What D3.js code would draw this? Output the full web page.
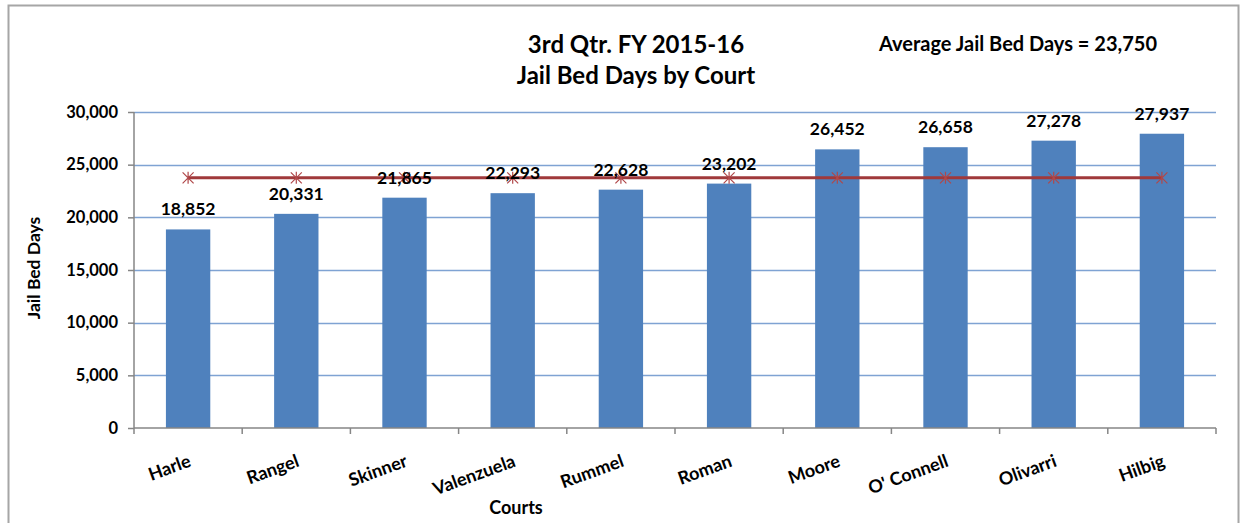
<!DOCTYPE html>
<html>
<head>
<meta charset="utf-8">
<script src="https://cdn.jsdelivr.net/npm/d3@7"></script>
<style>
  body { margin: 0; background: #fff; }
  text { font-family: Lato, "Open Sans", sans-serif; font-weight: bold; fill: #000; }
</style>
</head>
<body>
<div id="chart"></div>
<script>
// data
let courts = ['Harle', 'Rangel', 'Skinner', 'Valenzuela', 'Rummel', 'Roman', 'Moore', "O' Connell", 'Olivarri', 'Hilbig'];
let bedDays = [18852, 20331, 21865, 22293, 22628, 23202, 26452, 26658, 27278, 27937];
let averageDays = [23750, 23750, 23750, 23750, 23750, 23750, 23750, 23750, 23750, 23750];
let yTicks = [0, 5000, 10000, 15000, 20000, 25000, 30000];

let width = 1249,
    height = 523,
    margin = {left: 134, top: 112, right: 33, bottom: 95},
    svg = d3.select('#chart').append('svg')
        .attr('width', width)
        .attr('height', height),
    barColor = '#4F81BD',
    gridColor = '#7FA3D3',
    avgColor = '#A0393B',
    fmt = d3.format(',');

// outer frame
svg.append('rect')
    .attr('x', 8.5).attr('y', 5.5)
    .attr('width', 1230).attr('height', 540)
    .attr('fill', 'none')
    .attr('stroke', '#A6A6A6')
    .attr('stroke-width', 2);

let x = d3.scaleBand()
    .domain(courts)
    .range([margin.left, width - margin.right]);

let y = d3.scaleLinear()
    .domain([0, 30000])
    .range([height - margin.bottom, margin.top]);

// gridlines
svg.append('g').selectAll('line')
    .data(yTicks.filter((d) => d > 0))
    .enter().append('line')
    .attr('x1', margin.left).attr('x2', width - margin.right)
    .attr('y1', (d) => Math.round(y(d)) + 0.5)
    .attr('y2', (d) => Math.round(y(d)) + 0.5)
    .attr('stroke', gridColor)
    .attr('stroke-width', 1.5);

// bars
let bw = x.bandwidth() * 0.41;
svg.append('g').selectAll('rect')
    .data(bedDays)
    .enter().append('rect')
    .attr('x', (d, i) => x(courts[i]) + x.bandwidth() / 2 - bw / 2)
    .attr('y', (d) => y(d))
    .attr('width', bw)
    .attr('height', (d) => y(0) - y(d))
    .attr('fill', barColor);

// y axis
let yAxis = svg.append('g')
    .attr('transform', 'translate(' + margin.left + ',0)')
    .call(d3.axisLeft(y).tickValues(yTicks).tickSize(6).tickPadding(10).tickFormat(fmt));
yAxis.selectAll('path, line').attr('stroke', '#868686').attr('stroke-width', 1.5);
yAxis.select('.domain').attr('d', 'M0,' + y(30000) + 'V' + y(0));
yAxis.selectAll('text')
    .style('font-size', '16.5px')
    .style('font-family', 'Lato, sans-serif')
    .style('font-weight', 'bold');

// x axis with ticks at category edges
let xAxisG = svg.append('g')
    .attr('transform', 'translate(0,' + y(0) + ')');
xAxisG.append('line')
    .attr('x1', margin.left).attr('x2', width - margin.right)
    .attr('stroke', '#868686').attr('stroke-width', 1.5);
xAxisG.selectAll('line.tick')
    .data(courts.concat(['end']))
    .enter().append('line')
    .attr('class', 'tick')
    .attr('x1', (d, i) => margin.left + i * x.step())
    .attr('x2', (d, i) => margin.left + i * x.step())
    .attr('y1', 0).attr('y2', 6)
    .attr('stroke', '#868686').attr('stroke-width', 1.5);
xAxisG.selectAll('text')
    .data(courts)
    .enter().append('text')
    .attr('text-anchor', 'end')
    .attr('transform', (d) => 'translate(' + (x(d) + x.bandwidth() / 2 + 4) + ',' + 38 + ') rotate(-20)')
    .style('font-size', '18px')
    .text((d) => d);

// average line with star markers
let lineGen = d3.line()
    .x((d, i) => x(courts[i]) + x.bandwidth() / 2)
    .y((d) => y(d));
svg.append('path')
    .datum(averageDays)
    .attr('d', lineGen)
    .attr('fill', 'none')
    .attr('stroke', avgColor)
    .attr('stroke-width', 3);

let star = svg.append('g').selectAll('g')
    .data(averageDays)
    .enter().append('g')
    .attr('transform', (d, i) => 'translate(' + (x(courts[i]) + x.bandwidth() / 2) + ',' + y(d) + ')');
star.append('path')
    .attr('d', 'M0,-6V6M-5.5,-5.5L5.5,5.5M-5.5,5.5L5.5,-5.5')
    .attr('stroke', '#B0484A')
    .attr('stroke-width', 1.2)
    .attr('fill', 'none');

// data labels
svg.append('g').selectAll('text')
    .data(bedDays)
    .enter().append('text')
    .attr('x', (d, i) => x(courts[i]) + x.bandwidth() / 2)
    .attr('y', (d) => y(d) - 14)
    .attr('text-anchor', 'middle')
    .style('font-size', '17.5px')
    .text((d) => fmt(d));

// titles
svg.append('text')
    .attr('x', 636).attr('y', 53)
    .attr('text-anchor', 'middle')
    .style('font-size', '24px')
    .text('3rd Qtr. FY 2015-16');
svg.append('text')
    .attr('x', 636).attr('y', 84)
    .attr('text-anchor', 'middle')
    .style('font-size', '24px')
    .text('Jail Bed Days by Court');
svg.append('text')
    .attr('x', 1018).attr('y', 51)
    .attr('text-anchor', 'middle')
    .style('font-size', '20px')
    .text('Average Jail Bed Days = ' + fmt(averageDays[0]));

// axis titles
svg.append('text')
    .attr('transform', 'translate(40,268) rotate(-90)')
    .attr('text-anchor', 'middle')
    .style('font-size', '17.5px')
    .text('Jail Bed Days');
svg.append('text')
    .attr('x', 516).attr('y', 514)
    .attr('text-anchor', 'middle')
    .style('font-size', '18px')
    .text('Courts');
</script>
</body>
</html>
